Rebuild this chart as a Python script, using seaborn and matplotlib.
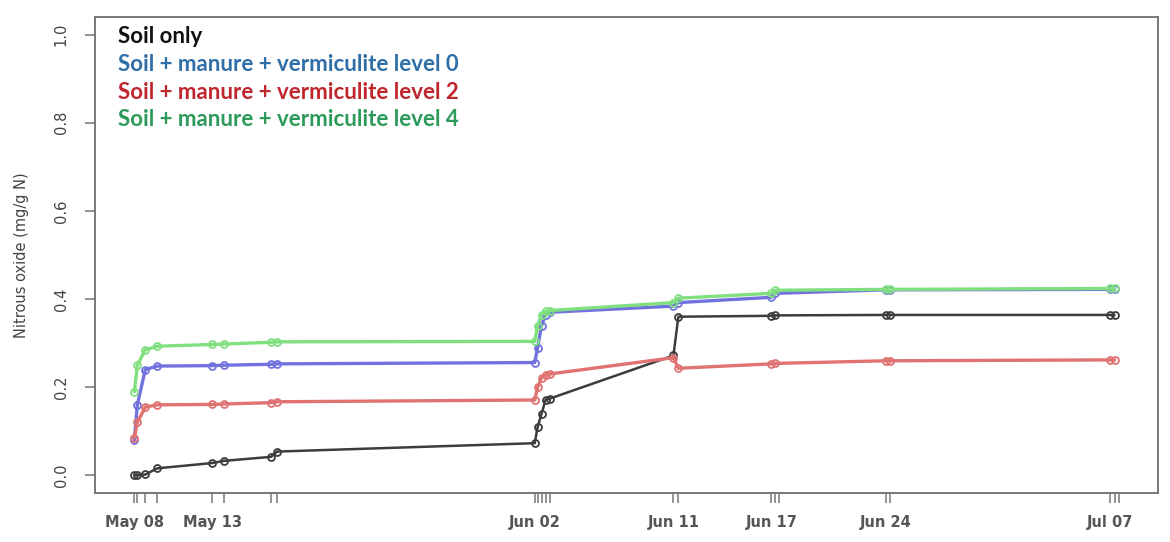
import matplotlib
matplotlib.use("Agg")
import matplotlib.pyplot as plt
import seaborn as sns
import pandas as pd
from matplotlib.lines import Line2D

# ---- data (days since first sampling, 8 May) ----
days = [0.0, 0.18, 0.67, 1.41, 4.78, 5.51, 8.39, 8.76, 24.56, 24.74, 24.98,
        25.23, 25.47, 33.07, 33.37, 39.07, 39.31, 46.11, 46.36, 59.83, 60.13]
tick_days = [0.0, 0.18, 0.67, 1.41, 4.78, 5.51, 8.39, 8.76, 24.56, 24.74, 24.98,
             25.23, 25.47, 33.07, 33.37, 39.07, 39.31, 39.56, 46.11, 46.36,
             59.83, 60.13, 60.38]
label_days = [0.0, 4.78, 24.56, 33.07, 39.07, 46.11, 59.83]
label_text = ["May 08", "May 13", "Jun 02", "Jun 11", "Jun 17", "Jun 24", "Jul 07"]

soil_only = [0.0, 0.0, 0.002, 0.016, 0.028, 0.033, 0.042, 0.054, 0.073, 0.11, 0.14,
             0.172, 0.174, 0.272, 0.36, 0.362, 0.363, 0.364, 0.364, 0.364, 0.364]
level0 = [0.08, 0.16, 0.24, 0.248, 0.249, 0.25, 0.252, 0.253, 0.256, 0.29, 0.34,
          0.365, 0.37, 0.384, 0.392, 0.404, 0.413, 0.421, 0.421, 0.422, 0.422]
level2 = [0.085, 0.12, 0.155, 0.16, 0.161, 0.162, 0.165, 0.167, 0.171, 0.2, 0.222,
          0.228, 0.23, 0.267, 0.243, 0.253, 0.254, 0.26, 0.26, 0.262, 0.262]
level4 = [0.19, 0.25, 0.285, 0.293, 0.297, 0.298, 0.302, 0.303, 0.304, 0.34, 0.365,
          0.372, 0.374, 0.392, 0.402, 0.413, 0.42, 0.422, 0.422, 0.424, 0.424]

groups = ["Soil only",
          "Soil + manure + vermiculite level 0",
          "Soil + manure + vermiculite level 2",
          "Soil + manure + vermiculite level 4"]
series = [soil_only, level0, level2, level4]
line_colors = ["#3c3c3c", "#7272de", "#e07272", "#80e080"]
line_widths = [1.8, 2.4, 2.4, 2.4]
text_colors = ["#111111", "#2f6ea6", "#c0262d", "#2c9a5a"]

df = pd.concat([pd.DataFrame({"day": days, "value": v, "group": g})
                for g, v in zip(groups, series)], ignore_index=True)

sns.set_theme(style="white")
plt.rcParams["font.family"] = ["DejaVu Sans"]

fig = plt.figure(figsize=(11.7, 5.42), dpi=100)
ax = fig.add_axes([95/1170, 1-493/542, (1158-95)/1170, (493-17)/542])

sns.lineplot(data=df, x="day", y="value", hue="group", hue_order=groups,
             palette=dict(zip(groups, line_colors)), marker="o", markersize=5,
             markerfacecolor="none", markeredgewidth=1.3, linewidth=2.0,
             estimator=None, sort=False, legend=False, ax=ax)
for ln, lw in zip(ax.lines, line_widths):
    ln.set_markeredgecolor(ln.get_color())
    ln.set_linewidth(lw)

lo, hi = min(tick_days), max(tick_days)
pad = 0.04 * (hi - lo)
ax.set_xlim(lo - pad, hi + pad)
ax.set_ylim(-0.04, 1.04)

ax.set_xticks(tick_days)
ax.set_xticklabels([label_text[label_days.index(d)] if d in label_days else ""
                    for d in tick_days])
ax.set_yticks([0.0, 0.2, 0.4, 0.6, 0.8, 1.0])
ax.set_yticklabels(["0.0", "0.2", "0.4", "0.6", "0.8", "1.0"], rotation=90,
                   va="center")
ax.tick_params(axis="both", direction="out", length=7, width=1.1, color="#777777",
               labelcolor="#444444", labelsize=10.5, bottom=True, left=True)
ax.tick_params(axis="y", pad=12)
ax.tick_params(axis="x", pad=9)
for lab in ax.get_xticklabels():
    lab.set_fontweight("bold")
    lab.set_color("#555555")

ax.set_xlabel("")
ax.set_ylabel("Nitrous oxide (mg/g N)", fontsize=10.5, color="#444444", labelpad=18)
for s in ax.spines.values():
    s.set_color("#777777")
    s.set_linewidth(1.4)

handles = [Line2D([], [], color="none") for _ in groups]
leg = ax.legend(handles, groups, loc="upper left", frameon=False, handlelength=0,
                handletextpad=0, labelcolor=text_colors, borderaxespad=0.0,
                bbox_to_anchor=(0.013, 0.999), labelspacing=0.3,
                prop={"family": ["Lato", "DejaVu Sans"], "weight": "bold", "size": 16})

fig.savefig("out.png", dpi=100)
